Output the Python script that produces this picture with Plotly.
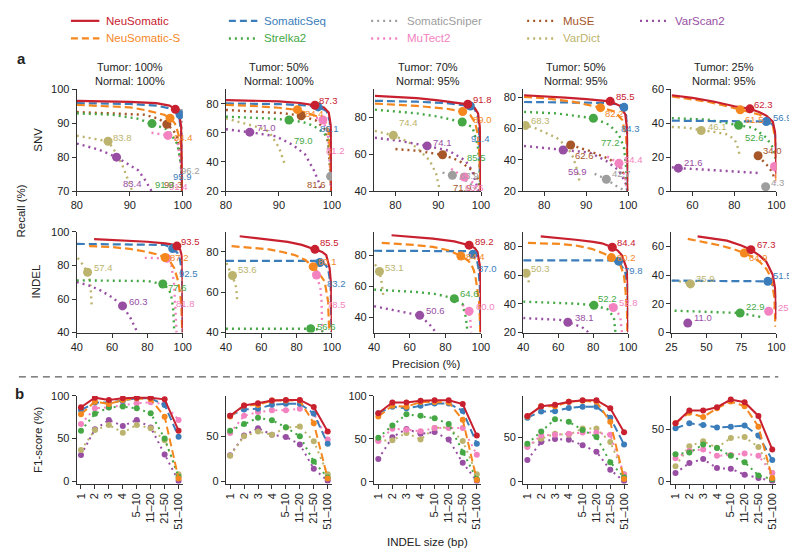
import plotly.graph_objects as go
from plotly.subplots import make_subplots

W, H = 797, 549

# ---------------------------------------------------------------- styles
STYLE = {
    'NeuSomatic':    ('#C8202E', 'solid'),
    'NeuSomatic-S':  ('#F5871F', 'dash'),
    'SomaticSeq':    ('#3A7DBA', 'dash'),
    'SomaticSniper': ('#9E9E9E', 'dot'),
    'MuSE':          ('#A65628', 'dot'),
    'Strelka2':      ('#45A845', 'dot'),
    'MuTect2':       ('#F283C0', 'dot'),
    'VarDict':       ('#BCB46E', 'dot'),
    'VarScan2':      ('#984EA3', 'dot'),
}
DASH = {'solid': 'solid', 'dash': '8px,4px', 'dot': '2px,4px'}
WIDTH = {'solid': 2.2, 'dash': 2.2, 'dot': 2.4}
DRAW_ORDER = ['VarDict', 'VarScan2', 'SomaticSniper', 'MuSE', 'MuTect2',
              'Strelka2', 'SomaticSeq', 'NeuSomatic-S', 'NeuSomatic']

# ---------------------------------------------------------------- data: SNV
# curves: tool -> (precision list, recall list)
SNV_T100_N100 = {
    'NeuSomatic': ([80, 90, 95, 97.5, 98.6, 99.3, 99.7, 99.85, 99.9], [96.6, 96.3, 95.9, 95.2, 94.2, 92.8, 89, 80, 70]),
    'NeuSomatic-S': ([80, 86, 90, 92.8, 95, 96.5, 97.6, 98.5, 99, 99.5, 99.75, 99.9], [95.4, 95.1, 94.7, 93.9, 93.2, 92.5, 91.5, 90, 87.7, 85, 82.8, 70]),
    'SomaticSeq': ([80, 90, 95, 97.5, 98.7, 99.4, 99.7, 99.8, 99.85], [95.9, 95.7, 95.2, 94.4, 93.2, 91, 87, 80, 70]),
    'SomaticSniper': ([99.3, 99.6, 99.8, 99.9, 99.95], [94, 93.5, 92.8, 85, 70]),
    'MuSE': ([80, 86, 92.8, 95.5, 97, 98.2, 99, 99.75, 99.9], [93.3, 93, 92.5, 91.3, 89.7, 88, 85.7, 78, 70]),
    'Strelka2': ([80, 86.7, 91.6, 94.2, 97.2, 99, 99.75, 99.85], [92.9, 92.5, 91.3, 89.9, 88.1, 83.8, 77, 70]),
    'MuTect2': ([94.1, 97.2, 99, 99.6, 99.9], [87.2, 86.4, 84.8, 78, 70]),
    'VarDict': ([80, 82.3, 85.9, 87.3, 88.5, 89.5, 90.4], [86.3, 85.6, 84.7, 81.5, 78, 74, 70.3]),
    'VarScan2': ([80, 84, 87.5, 89.5, 91.6, 93, 94.1], [84, 82.3, 80, 78.2, 76.1, 73, 70]),
}
# points: tool -> (precision, recall, F1 text)
SNV_T100_N100_PTS = {
    'NeuSomatic': (98.6, 94.1, '96.2'), 'NeuSomatic-S': (97.6, 91.5, '94.4'),
    'SomaticSeq': (99.5, 92.5, '95.9'), 'SomaticSniper': (99.7, 92.9, '96.2'),
    'MuSE': (97.0, 89.7, '93.3'), 'Strelka2': (94.2, 89.9, '91.9'),
    'MuTect2': (97.2, 86.4, '91.4'), 'VarDict': (85.9, 84.7, '83.8'),
    'VarScan2': (87.5, 80.0, '83.4'),
}
SNV_T100_N100_LBL = {
    'NeuSomatic': (100.4, 94.3), 'NeuSomatic-S': (97.9, 85.9), 'SomaticSeq': (97.7, 74.3),
    'SomaticSniper': (99.3, 76.1), 'MuSE': (96.1, 71.9), 'Strelka2': (94.3, 71.9),
    'MuTect2': (97.0, 71.4), 'VarDict': (86.4, 85.9), 'VarScan2': (88.4, 72.1),
}

SNV_T50_N100 = {
    'NeuSomatic': ([80, 85, 90, 94, 96.8, 98.5, 99.4, 99.8, 99.9, 99.95], [82.6, 82.3, 81.7, 80.6, 79, 77.5, 74, 65, 40, 20]),
    'NeuSomatic-S': ([80, 85, 90, 93.5, 95.5, 97.5, 98.8, 99.4, 99.7, 99.85], [79.3, 78.6, 77.3, 75.8, 73.5, 71, 67, 60, 45, 20]),
    'SomaticSeq': ([80, 90, 95, 97.4, 99, 99.6, 99.85, 99.9], [80.3, 79.8, 79, 77.9, 75, 68, 50, 20]),
    'SomaticSniper': ([99.3, 99.6, 99.75, 99.85], [50, 40, 30.1, 20]),
    'MuSE': ([80, 88, 91, 94.2, 97, 98.8, 99.4, 99.8], [75.8, 74.5, 73.5, 71.8, 68.5, 62, 50, 25]),
    'Strelka2': ([80, 85, 88, 91.9, 94.5, 96.5, 98.5, 99.3, 99.7, 99.9], [71.2, 70.7, 70, 68.9, 67.5, 65, 60, 55, 45, 20]),
    'MuTect2': ([97, 98.3, 99.2, 99.6, 99.8], [70.5, 68.9, 60, 45, 20]),
    'VarDict': ([80, 83, 86, 88.1, 90, 91.2], [70, 67, 64, 61, 50, 37.5]),
    'VarScan2': ([80, 84.5, 89.4, 92.5, 94.9, 96.5, 97.4, 98], [62.5, 60.5, 57.7, 52, 45.4, 35, 27.4, 20]),
}
SNV_T50_N100_PTS = {
    'NeuSomatic': (96.8, 79.0, '87.3'), 'NeuSomatic-S': (93.5, 76.0, '84.4'),
    'SomaticSeq': (97.4, 77.9, '86.1'), 'SomaticSniper': (99.75, 30.1, '46.5'),
    'MuSE': (94.2, 71.8, '81.6'), 'Strelka2': (91.9, 68.9, '79.0'),
    'MuTect2': (98.3, 68.9, '81.2'), 'VarDict': (78.5, 71.0, '74.5'),
    'VarScan2': (84.5, 60.5, '71.0'),
}
SNV_T50_N100_LBL = {
    'NeuSomatic': (97.2, 82.4), 'NeuSomatic-S': (94.6, 73.4), 'SomaticSeq': (97.4, 63.3),
    'SomaticSniper': (100.2, 33), 'MuSE': (94.9, 24.7), 'Strelka2': (92.5, 54.8),
    'MuTect2': (98.6, 47.6), 'VarDict': (78.7, 74), 'VarScan2': (85.5, 64),
}

SNV_T70_N95 = {
    'NeuSomatic': ([75.2, 80, 85, 90, 94, 96.9, 98.5, 99.3, 99.7, 99.9, 99.95], [91.5, 91, 90.2, 89, 88, 86.9, 85, 82, 75, 60, 40]),
    'NeuSomatic-S': ([75.2, 85, 92, 95.7, 97.5, 98.6, 99.3, 99.6, 99.8, 99.85], [87.3, 86, 84.5, 83, 81, 77, 70, 60, 45, 40]),
    'SomaticSeq': ([75.2, 85, 92, 96, 97.5, 98.5, 99.3, 99.6, 99.7, 99.75], [88.8, 88.3, 87.5, 86.5, 86, 84.5, 80, 70, 55, 45]),
    'SomaticSniper': ([91, 93.3, 95.5, 97, 98.5, 99.2], [50, 48.5, 46.5, 45, 42, 40]),
    'MuSE': ([80, 85, 91, 94.8, 97.9, 99.4, 99.8], [62.7, 61.8, 59.6, 56.5, 51.2, 45.8, 40]),
    'Strelka2': ([75.2, 80, 85, 90, 95.6, 98, 99.2, 99.6, 99.8], [84, 83.2, 82, 80.2, 77.3, 74.5, 65, 55, 40]),
    'MuTect2': ([93, 96.1, 98.5, 99.7], [52, 47.6, 44, 40]),
    'VarDict': ([75.2, 79.5, 83, 85, 88, 89.5, 90.4], [72.5, 70.1, 66.5, 63.5, 56.5, 49.4, 40]),
    'VarScan2': ([75.2, 81, 87.4, 92.5, 96.3, 97.9, 99.4], [68.8, 67.1, 64.4, 61.8, 56.5, 51.2, 40]),
}
SNV_T70_N95_PTS = {
    'NeuSomatic': (96.9, 86.9, '91.8'), 'NeuSomatic-S': (95.7, 83.0, '89.0'),
    'SomaticSeq': (97.5, 86.0, '91.4'), 'SomaticSniper': (93.3, 48.5, '63.9'),
    'MuSE': (91.0, 59.6, '71.9'), 'Strelka2': (95.6, 77.3, '85.5'),
    'MuTect2': (96.1, 47.6, '63.6'), 'VarDict': (79.5, 70.1, '74.4'),
    'VarScan2': (87.4, 64.4, '74.1'),
}
SNV_T70_N95_LBL = {
    'NeuSomatic': (97.7, 89.7), 'NeuSomatic-S': (97.7, 78.6), 'SomaticSeq': (97.1, 68.5),
    'SomaticSniper': (94.5, 48.5), 'MuSE': (92.9, 42), 'Strelka2': (96.2, 58.2),
    'MuTect2': (95.8, 42), 'VarDict': (80.4, 77.3), 'VarScan2': (88.2, 66.2),
}

SNV_T50_N95 = {
    'NeuSomatic': ([75.2, 80, 85, 90, 95.7, 98, 99.3, 99.8, 99.9, 99.95], [81.2, 80.6, 79.7, 78.7, 77.3, 74.5, 69, 58, 45, 20]),
    'NeuSomatic-S': ([75.2, 80, 87, 93.4, 96.8, 98.6, 99.5, 99.9, 100], [80.2, 79.3, 77, 73.3, 70.8, 65.4, 54, 37, 20]),
    'SomaticSeq': ([75.2, 85, 95, 98.2, 99, 99.5, 99.8, 99.9], [76.9, 76.8, 76.3, 75, 73.5, 68.5, 54, 20]),
    'SomaticSniper': ([92, 94.8, 97, 99], [31, 27.5, 23.5, 20.5]),
    'MuSE': ([86.3, 90.8, 95.5, 97.8, 99.3, 99.9], [49.4, 45.6, 40.4, 36.3, 29, 20]),
    'Strelka2': ([75.2, 83, 91.7, 95.5, 97.8, 99, 99.5, 99.9], [70.6, 69.6, 66.5, 62.3, 56, 47.7, 35, 20]),
    'MuTect2': ([95, 97.8, 99.2, 99.6, 99.8], [42, 37.7, 30, 22, 20]),
    'VarDict': ([75, 78, 83, 85.5, 86.9, 88, 88.4], [62.5, 60, 54, 48, 41.5, 32, 25.8]),
    'VarScan2': ([75.2, 84.5, 90.8, 94.7, 97.8, 99.4, 99.8], [48.8, 46.2, 44.6, 39.4, 33.1, 24.8, 20]),
}
SNV_T50_N95_PTS = {
    'NeuSomatic': (95.7, 77.3, '85.5'), 'NeuSomatic-S': (93.4, 73.3, '82.2'),
    'SomaticSeq': (99.0, 73.5, '84.3'), 'SomaticSniper': (94.8, 27.5, '42.7'),
    'MuSE': (86.3, 49.4, '62.6'), 'Strelka2': (91.7, 66.5, '77.2'),
    'MuTect2': (97.8, 37.7, '54.4'), 'VarDict': (75.5, 61.9, '68.3'),
    'VarScan2': (84.5, 46.2, '59.9'),
}
SNV_T50_N95_LBL = {
    'NeuSomatic': (96.6, 80.6), 'NeuSomatic-S': (93.9, 69.6), 'SomaticSeq': (97.8, 60),
    'SomaticSniper': (95.6, 31), 'MuSE': (86.9, 42.5), 'Strelka2': (93.1, 50.8),
    'MuTect2': (98.6, 40.4), 'VarDict': (76.3, 65), 'VarScan2': (85.3, 32.7),
}

SNV_T25_N95 = {
    'NeuSomatic': ([50.2, 60, 70, 80, 87.4, 92, 95.2, 98.3, 99.6, 99.9, 100], [56.5, 55, 52.8, 50, 48.5, 46.5, 44.5, 41, 33.4, 20, 10]),
    'NeuSomatic-S': ([50.2, 60, 67.3, 75, 82.8, 88, 92.1, 96, 98.3, 99.5, 100, 100], [55.8, 53.8, 52.7, 50.5, 47.9, 46.5, 45, 42, 39, 30, 16, 6]),
    'SomaticSeq': ([50.2, 70, 90, 95.2, 98, 99, 99.7, 100], [41.5, 41.2, 41.1, 41, 39.5, 37, 30, 20]),
    'SomaticSniper': ([93, 94.9, 97], [3.5, 2.5, 1.5]),
    'MuSE': ([91.3, 94, 96.5, 98, 99], [20.8, 17.5, 14, 11, 8]),
    'Strelka2': ([50.2, 67.3, 82, 89, 95.2, 98.3, 99.8], [43, 42.1, 38.8, 37.3, 31.5, 25.7, 18]),
    'MuTect2': ([98.5, 99.1, 99.5, 99.8], [16, 14.5, 10, 5]),
    'VarDict': ([50.2, 58, 64.2, 70, 76.6, 80, 81.2, 82.3, 82.8], [37.8, 37.3, 35.8, 35, 33.4, 30.5, 27.6, 22, 20]),
    'VarScan2': ([50.2, 53.3, 65, 75, 85, 92.1], [14, 13.5, 12.7, 12, 11.3, 10.6]),
}
SNV_T25_N95_PTS = {
    'NeuSomatic': (87.4, 48.5, '62.3'), 'NeuSomatic-S': (82.8, 47.9, '61.5'),
    'SomaticSeq': (95.2, 41.0, '56.9'), 'SomaticSniper': (94.9, 2.5, '4.3'),
    'MuSE': (91.3, 20.8, '34.0'), 'Strelka2': (82.0, 38.8, '52.6'),
    'MuTect2': (99.1, 14.5, '25.6'), 'VarDict': (64.2, 35.7, '46.1'),
    'VarScan2': (53.3, 13.5, '21.6'),
}
SNV_T25_N95_LBL = {
    'NeuSomatic': (88.2, 51.2), 'NeuSomatic-S': (84.3, 42.1), 'SomaticSeq': (97.5, 43.4),
    'SomaticSniper': (96.7, 4.8), 'MuSE': (92.9, 23.7), 'Strelka2': (84, 31.5),
    'MuTect2': (100.2, 17), 'VarDict': (66.5, 38.2), 'VarScan2': (54.9, 17),
}

# ---------------------------------------------------------------- data: INDEL
INDEL_T100_N100 = {
    'NeuSomatic': ([49.8, 60, 70, 80, 90, 94.5, 96.7, 98.5, 99.4, 99.8, 99.9, 100], [95.7, 95.3, 94.8, 94.1, 93.1, 92.4, 91.5, 89.5, 86, 80, 60, 40]),
    'NeuSomatic-S': ([47, 60, 70, 80, 86, 90, 93, 95.2, 97, 98, 99.2, 99.7], [91.5, 90.9, 89.8, 88, 86.4, 84.7, 82, 78.3, 72, 66.6, 57, 40]),
    'SomaticSeq': ([40, 60, 80, 90, 94.3, 97, 98.5, 99.3, 99.7, 100], [92.8, 92.6, 92.4, 92.2, 90, 87.5, 83, 78, 68, 40]),
    'Strelka2': ([40, 60, 80, 88.7, 92, 93.3, 94.5, 95, 95.2], [71.1, 70.9, 70.7, 68.9, 66, 62.7, 55, 45, 40]),
    'MuTect2': ([78.5, 86, 91, 93.5, 95, 95.5, 96, 96.5], [84.5, 84.5, 84.2, 80, 70, 60, 50, 40]),
    'VarDict': ([40.5, 43, 46.1, 47.5, 48, 48.5], [84.5, 81, 75.9, 70, 64, 55]),
    'VarScan2': ([40, 47, 52.6, 60, 65.9, 70.2, 74.4], [70.1, 68, 65.6, 61, 55.9, 49.1, 40]),
}
INDEL_T100_N100_PTS = {
    'NeuSomatic': (96.7, 91.5, '93.5'), 'NeuSomatic-S': (90.0, 84.7, '87.2'),
    'SomaticSeq': (94.3, 90.0, '92.5'), 'Strelka2': (88.7, 68.9, '77.6'),
    'MuTect2': (91.0, 84.2, '81.8'), 'VarDict': (46.1, 75.9, '57.4'),
    'VarScan2': (65.9, 55.9, '60.3'),
}
INDEL_T100_N100_LBL = {
    'NeuSomatic': (98, 94.2), 'NeuSomatic-S': (91.5, 84.7), 'SomaticSeq': (97, 75.3),
    'Strelka2': (90.6, 67), 'MuTect2': (94.8, 57.3), 'VarDict': (48.5, 78.6),
    'VarScan2': (68.3, 58.8),
}

INDEL_T50_N100 = {
    'NeuSomatic': ([47.8, 55, 64.4, 75, 83, 90.4, 94.5, 96.8, 98.7, 99.6, 99.9, 100], [87.8, 87, 86.1, 85, 83.5, 81.3, 80, 78.4, 72, 63.8, 50, 40]),
    'NeuSomatic-S': ([43.2, 55, 64.4, 72, 79.3, 85, 89.4, 93, 95.9, 97.8, 98.3, 98.5], [82.9, 82, 81.3, 80, 78.4, 76, 72.7, 69, 65.4, 55.7, 44, 40]),
    'SomaticSeq': ([40, 60, 80, 92, 95.5, 97.8, 99.3, 99.7, 99.8], [75.6, 75.6, 75.6, 75.6, 74.5, 71.9, 63.8, 50, 40]),
    'Strelka2': ([40, 60, 80, 88, 93, 95, 95.5], [41.9, 41.9, 41.8, 41.9, 41.5, 40.5, 40]),
    'MuTect2': ([89, 91.3, 93.5, 94.2, 94.5], [69.5, 68.6, 62, 55, 40]),
    'VarDict': ([40.3, 42, 43.7, 45, 45.9, 46.4], [74.5, 71, 68.3, 65, 62, 55.7]),
    'VarScan2': ([40, 60, 70, 80, 85], [38, 35.5, 33.5, 31, 28]),
}
INDEL_T50_N100_PTS = {
    'NeuSomatic': (90.4, 81.3, '85.5'), 'NeuSomatic-S': (89.4, 72.7, '80.1'),
    'SomaticSeq': (93.2, 74.8, '83.2'), 'Strelka2': (88.0, 41.9, '56.6'),
    'MuTect2': (91.3, 68.6, '78.5'), 'VarDict': (43.7, 68.3, '53.6'),
    'VarScan2': (75.0, 31.0, '46.5'),
}
INDEL_T50_N100_LBL = {
    'NeuSomatic': (92.2, 84.5), 'NeuSomatic-S': (91.1, 75.2), 'SomaticSeq': (95.9, 64.6),
    'Strelka2': (90.7, 43), 'MuTect2': (96, 54.1), 'VarDict': (45.9, 71.1),
    'VarScan2': (65, 39.2),
}

INDEL_T70_N95 = {
    'NeuSomatic': ([49.8, 60, 73, 85, 93.3, 96.5, 98, 99.3, 99.8, 100], [92.8, 92, 90.6, 88.8, 86.4, 84.5, 82, 73.6, 60, 30]),
    'NeuSomatic-S': ([44.3, 60, 73, 82, 88.7, 92, 94.3, 96, 97, 98.3, 98.9, 99.3, 99.5], [87.9, 86.8, 85.3, 83, 79.4, 77, 74.7, 70, 65, 55, 50, 40, 30]),
    'SomaticSeq': ([40, 60, 80, 92, 95.5, 97.5, 98.5, 99.3, 99.6], [82.8, 82.8, 82.7, 82.5, 80.5, 78, 72, 60, 30]),
    'Strelka2': ([40, 63.7, 75, 85, 89.6, 91.5, 92.4], [57.7, 56.2, 54.8, 51.9, 48.5, 39.6, 30]),
    'MuTect2': ([89.6, 93.3, 94, 94.3, 94.5], [48, 43.8, 38, 34, 30]),
    'VarDict': ([40.5, 43, 44, 44.3, 45.2], [74, 69.4, 64, 60.9, 53.4]),
    'VarScan2': ([40, 54.4, 65.6, 71.1, 74.8], [47, 43.8, 41.1, 35.3, 30]),
}
INDEL_T70_N95_PTS = {
    'NeuSomatic': (93.3, 86.4, '89.2'), 'NeuSomatic-S': (88.7, 79.4, '84.4'),
    'SomaticSeq': (95.5, 80.5, '87.0'), 'Strelka2': (85.0, 51.9, '64.6'),
    'MuTect2': (93.3, 43.8, '60.0'), 'VarDict': (43.0, 69.4, '53.1'),
    'VarScan2': (65.6, 41.1, '50.6'),
}
INDEL_T70_N95_LBL = {
    'NeuSomatic': (95.6, 88.9), 'NeuSomatic-S': (90.6, 79.4), 'SomaticSeq': (97, 71.1),
    'Strelka2': (86.9, 54.9), 'MuTect2': (96.1, 47), 'VarDict': (44.8, 71.9),
    'VarScan2': (67.8, 44.3),
}

INDEL_T50_N95 = {
    'NeuSomatic': ([50, 60, 70, 80, 85, 90.9, 94, 96.4, 98, 99.1, 99.8, 100], [86.8, 85.8, 84.5, 83, 82, 79.3, 77, 73.7, 68, 64.6, 53, 20]),
    'NeuSomatic-S': ([42.7, 61, 70, 79.1, 86, 90.4, 93, 95.5, 97.5, 98.2, 99.3, 99.5], [82.3, 81.6, 80.5, 78.2, 75, 72.1, 69.5, 66.8, 60, 53, 35, 20]),
    'SomaticSeq': ([40, 60, 80, 92, 94.5, 96.5, 98.2, 99.5, 100], [70.2, 70.2, 70.2, 70.1, 69.6, 66, 62.3, 53, 20]),
    'Strelka2': ([40, 60, 70, 80.4, 88.2, 91.8, 92.7], [41.5, 40.8, 40.1, 39, 36.2, 30.6, 20]),
    'MuTect2': ([89, 91.5, 94, 95.5, 96.4], [39, 37.4, 34, 30.6, 20]),
    'VarDict': ([40.5, 41.7, 43, 43.5], [64, 61.2, 56, 53]),
    'VarScan2': ([40, 61, 65.5, 73.6, 77.3], [30.1, 28.8, 27.2, 23.8, 20]),
}
INDEL_T50_N95_PTS = {
    'NeuSomatic': (90.9, 79.3, '84.4'), 'NeuSomatic-S': (90.4, 72.1, '80.2'),
    'SomaticSeq': (94.5, 69.6, '79.8'), 'Strelka2': (80.4, 39.0, '52.2'),
    'MuTect2': (91.5, 37.4, '52.8'), 'VarDict': (41.7, 61.2, '50.3'),
    'VarScan2': (65.5, 27.2, '38.1'),
}
INDEL_T50_N95_LBL = {
    'NeuSomatic': (92.7, 82.7), 'NeuSomatic-S': (92.7, 72.5), 'SomaticSeq': (96.4, 63),
    'Strelka2': (81.8, 43.5), 'MuTect2': (93.6, 40.8), 'VarDict': (43.5, 64.6),
    'VarScan2': (68.2, 30.6),
}

INDEL_T25_N95 = {
    'NeuSomatic': ([43.7, 55, 64.7, 75, 81.8, 88, 92.8, 97.4, 99.2, 99.6, 100], [66.9, 65.5, 63.9, 60.5, 57.6, 53.5, 49.2, 40.1, 30, 22, 9.5]),
    'NeuSomatic-S': ([36.7, 50, 60, 70, 77.1, 83, 88.1, 93, 96.3, 98.6, 99.3], [65.1, 62.5, 60.5, 57.8, 55.3, 52.5, 49.2, 44, 37.9, 24, 4]),
    'SomaticSeq': ([25, 50, 75, 92.8, 93.9, 97, 98.6, 99.7, 100], [36.1, 36.1, 36.1, 36.1, 35.6, 33.5, 31, 22, 13]),
    'Strelka2': ([27.3, 45, 60, 74.1, 83.4, 90], [15.2, 14.7, 14.1, 13.6, 11.8, 10.7]),
    'MuTect2': ([98.5, 99.5, 99.8], [18, 14.7, 8]),
    'VarDict': ([26.2, 34.3, 38.6, 40.2, 41], [36.1, 35.1, 33.8, 32.2, 31]),
    'VarScan2': ([36.7], [6.6]),
}
INDEL_T25_N95_PTS = {
    'NeuSomatic': (81.8, 57.6, '67.3'), 'NeuSomatic-S': (77.1, 55.3, '64.9'),
    'SomaticSeq': (93.9, 35.6, '51.5'), 'Strelka2': (74.1, 13.6, '22.9'),
    'MuTect2': (94.5, 14.8, '25.6'), 'VarDict': (38.6, 33.8, '35.9'),
    'VarScan2': (36.7, 6.6, '11.0'),
}
INDEL_T25_N95_LBL = {
    'NeuSomatic': (84.6, 61), 'NeuSomatic-S': (78.7, 51.9), 'SomaticSeq': (96.3, 39.7),
    'Strelka2': (76.9, 17.9), 'MuTect2': (99.8, 17.5), 'VarDict': (40.9, 37.9),
    'VarScan2': (39.5, 10.2),
}

# ---------------------------------------------------------------- data: F1 by INDEL size
SIZE_BINS = ['1', '2', '3', '4', '5–10', '11–20', '21–50', '51–100']

F1_T100_N100 = {
    'NeuSomatic':   [86.7, 98, 95.3, 97.3, 98, 98, 96, 59.2],
    'NeuSomatic-S': [78.4, 93.3, 90.6, 95.3, 97.3, 96, 75.7, 3],
    'SomaticSeq':   [83.5, 92.2, 92.2, 94.5, 97.3, 97.3, 89.4, 52.2],
    'Strelka2':     [59.2, 79.0, 86.5, 87.5, 85.5, 79.6, 50, 5],
    'MuTect2':      [67.1, 85.5, 86.7, 89.4, 91.4, 92.5, 90.6, 71.8],
    'VarDict':      [36.5, 60, 65.9, 56.9, 65.9, 62, 48, 8.2],
    'VarScan2':     [30.6, 60.8, 71.8, 64.7, 71.8, 63.1, 31.4, 0],
}
F1_T50_N100 = {
    'NeuSomatic':   [73, 84.4, 87, 90, 90.6, 90.6, 82.6, 55.4],
    'NeuSomatic-S': [72, 84.4, 85, 90, 89.9, 89.9, 64.6, 3],
    'SomaticSeq':   [73, 80, 80.8, 85.2, 86.3, 86.3, 75.4, 41.6],
    'Strelka2':     [56.2, 63.8, 70.7, 68, 60, 50, 21.8, 4],
    'MuTect2':      [53.6, 72.8, 77, 79, 79, 80.8, 75.4, 46.4],
    'VarDict':      [28.3, 50, 55.4, 51.8, 59.8, 60.9, 44.6, 7.6],
    'VarScan2':     [29, 51, 59, 51.8, 49.3, 41, 13.8, 0.4],
}
F1_T70_N95 = {
    'NeuSomatic':   [79.9, 92.4, 92.4, 94.3, 95, 95, 90.5, 53.9],
    'NeuSomatic-S': [76, 88.6, 87.5, 93, 93, 92.4, 72.3, 2],
    'SomaticSeq':   [79.9, 87.5, 85.6, 88.6, 91.3, 91.3, 82.5, 44.4],
    'Strelka2':     [51.3, 65.6, 78.7, 76.8, 74.1, 67.3, 34.2, 3],
    'MuTect2':      [47.5, 61.8, 60.7, 58.9, 62.7, 62.7, 62.7, 31.6],
    'VarDict':      [48, 48.3, 56.9, 49.4, 62.7, 63.5, 47.5, 8.7],
    'VarScan2':     [26.6, 52, 61.6, 55.9, 58, 49.4, 22.1, 0.8],
}
F1_T50_N95 = {
    'NeuSomatic':   [73.5, 84.4, 86.2, 89.5, 91.3, 91.3, 82.2, 55.4],
    'NeuSomatic-S': [73, 84.4, 84.4, 89.5, 90.6, 89.5, 67, 3],
    'SomaticSeq':   [71.7, 78.6, 79, 82.6, 84, 84, 71.7, 41.6],
    'Strelka2':     [42.4, 56.2, 69.9, 67, 57.9, 50, 21.7, 5],
    'MuTect2':      [38.8, 51.8, 52.5, 53.6, 55, 55, 52.5, 8],
    'VarDict':      [40, 48.2, 53.6, 52.5, 59.6, 59.6, 44.5, 8.3],
    'VarScan2':     [24.3, 44.5, 47.8, 47, 40.9, 33.6, 13.3, 0.7],
}
F1_T25_N95 = {
    'NeuSomatic':   [55.7, 68.1, 68.1, 71.2, 78.5, 76, 62.8, 30.6],
    'NeuSomatic-S': [55.7, 65.9, 61.7, 70.2, 76.6, 72.2, 52.5, 3],
    'SomaticSeq':   [50.9, 55.7, 54.1, 51.6, 52.5, 53.5, 44, 20.4],
    'Strelka2':     [25.9, 27.5, 35.3, 32, 24.4, 18.2, 5.6, 2],
    'MuTect2':      [22.2, 29, 30.6, 24.4, 25.3, 26.6, 24.4, 8],
    'VarDict':      [14.4, 33.7, 38.4, 32.2, 41.6, 42.5, 32.8, 7.8],
    'VarScan2':     [7.8, 17.5, 21.3, 12.6, 12, 6.3, 3.1, 0.3],
}

PANEL_TITLES = ['Tumor: 100%<br>Normal: 100%', 'Tumor: 50%<br>Normal: 100%',
                'Tumor: 70%<br>Normal: 95%', 'Tumor: 50%<br>Normal: 95%',
                'Tumor: 25%<br>Normal: 95%']

# ---------------------------------------------------------------- layout geometry (pixels)
COL_PX = [(64, 172), (216, 324), (367, 476), (519, 626), (670, 777)]
ROW_PX = [(77, 181), (222.7, 325.7), (390.5, 480)]

SNV_AXES = [  # (xrange, xticks, yrange, yticks)
    ([80, 100], [80, 90, 100], [70, 100], [70, 80, 90, 100]),
    ([80, 100], [80, 90, 100], [20, 90], [20, 40, 60, 80]),
    ([75, 100], [80, 90, 100], [40, 95], [40, 60, 80]),
    ([75, 100], [80, 90, 100], [20, 85], [20, 40, 60, 80]),
    ([50, 100], [60, 80, 100], [0, 60], [0, 20, 40, 60]),
]
INDEL_AXES = [
    ([40, 100], [40, 60, 80, 100], [40, 100], [40, 60, 80, 100]),
    ([40, 100], [40, 60, 80, 100], [40, 90], [40, 60, 80]),
    ([40, 100], [40, 60, 80, 100], [30, 95], [40, 60, 80]),
    ([40, 100], [40, 60, 80, 100], [20, 90], [20, 40, 60, 80]),
    ([25, 100], [25, 50, 75, 100], [0, 70], [0, 20, 40, 60]),
]
F1_YAXES = [([-2.8, 100], [0, 50, 100]), ([-2.6, 95], [0, 50]), ([-2, 100], [0, 50, 100]),
            ([-2, 96], [0, 50]), ([-2.2, 82], [0, 50])]

FONT = 'Liberation Sans, Arial, Helvetica, sans-serif'
AX_COLOR = '#333333'


def fx(px):
    return px / W


def fy(py):
    return 1 - py / H


fig = make_subplots(rows=3, cols=5)

axis_common = dict(showline=True, linecolor=AX_COLOR, linewidth=1.3, ticks='outside',
                   ticklen=4, tickwidth=1.2, tickcolor=AX_COLOR, showgrid=False,
                   zeroline=False, tickfont=dict(family=FONT, size=11, color='#222'))

for r in range(3):
    for c in range(5):
        fig.update_xaxes(domain=[fx(COL_PX[c][0]), fx(COL_PX[c][1])], row=r + 1, col=c + 1, **axis_common)
        fig.update_yaxes(domain=[fy(ROW_PX[r][1]), fy(ROW_PX[r][0])], row=r + 1, col=c + 1, **axis_common)


def add_pr_panel(row, col, curves, pts, lbl, axes):
    xr, xt, yr, yt = axes
    fig.update_xaxes(range=xr, tickvals=xt, row=row, col=col)
    fig.update_yaxes(range=yr, tickvals=yt, row=row, col=col)
    tools = [t for t in DRAW_ORDER if t in curves]
    for t in tools:
        color, kind = STYLE[t]
        xs, ys = curves[t]
        fig.add_trace(go.Scatter(x=xs, y=ys, mode='lines', showlegend=False,
                                 line=dict(color=color, width=WIDTH[kind], dash=DASH[kind])),
                      row=row, col=col)
    for t in tools:
        color, _ = STYLE[t]
        px_, py_, _txt = pts[t]
        fig.add_trace(go.Scatter(x=[px_], y=[py_], mode='markers', showlegend=False,
                                 marker=dict(color=color, size=9)),
                      row=row, col=col)
    for t in tools:
        color, _ = STYLE[t]
        lx, ly = lbl[t]
        fig.add_annotation(x=lx, y=ly, text=pts[t][2], showarrow=False,
                           xanchor='left', yanchor='middle',
                           font=dict(family=FONT, size=9.5, color=color),
                           row=row, col=col)


snv = [(SNV_T100_N100, SNV_T100_N100_PTS, SNV_T100_N100_LBL),
       (SNV_T50_N100, SNV_T50_N100_PTS, SNV_T50_N100_LBL),
       (SNV_T70_N95, SNV_T70_N95_PTS, SNV_T70_N95_LBL),
       (SNV_T50_N95, SNV_T50_N95_PTS, SNV_T50_N95_LBL),
       (SNV_T25_N95, SNV_T25_N95_PTS, SNV_T25_N95_LBL)]
indel = [(INDEL_T100_N100, INDEL_T100_N100_PTS, INDEL_T100_N100_LBL),
         (INDEL_T50_N100, INDEL_T50_N100_PTS, INDEL_T50_N100_LBL),
         (INDEL_T70_N95, INDEL_T70_N95_PTS, INDEL_T70_N95_LBL),
         (INDEL_T50_N95, INDEL_T50_N95_PTS, INDEL_T50_N95_LBL),
         (INDEL_T25_N95, INDEL_T25_N95_PTS, INDEL_T25_N95_LBL)]

for c in range(5):
    add_pr_panel(1, c + 1, *snv[c], SNV_AXES[c])
    add_pr_panel(2, c + 1, *indel[c], INDEL_AXES[c])

# ---- row 3: F1 by INDEL size
f1_sets = [F1_T100_N100, F1_T50_N100, F1_T70_N95, F1_T50_N95, F1_T25_N95]
F1_ORDER = ['VarScan2', 'VarDict', 'MuTect2', 'Strelka2', 'SomaticSeq', 'NeuSomatic-S', 'NeuSomatic']
for c, data in enumerate(f1_sets):
    yr, yt = F1_YAXES[c]
    fig.update_xaxes(type='category', categoryorder='array', categoryarray=SIZE_BINS,
                     range=[-0.3, 7.3], tickangle=-90, row=3, col=c + 1)
    fig.update_yaxes(range=yr, tickvals=yt, row=3, col=c + 1)
    for t in F1_ORDER:
        color, kind = STYLE[t]
        fig.add_trace(go.Scatter(x=SIZE_BINS, y=data[t], mode='lines+markers', showlegend=False,
                                 line=dict(color=color, width=2.0, dash=DASH[kind]),
                                 marker=dict(color=color, size=6)),
                      row=3, col=c + 1)

# ---- panel titles
for c in range(5):
    fig.add_annotation(xref='paper', yref='paper', x=fx(sum(COL_PX[c]) / 2), y=fy(61),
                       text=PANEL_TITLES[c], showarrow=False, xanchor='center', yanchor='middle',
                       font=dict(family=FONT, size=11, color='#222'))

# ---- text labels around the grid
def paper_text(px, py, text, size=11.5, angle=0, bold=False, anchor='center'):
    fig.add_annotation(xref='paper', yref='paper', x=fx(px), y=fy(py), text=f'<b>{text}</b>' if bold else text,
                       showarrow=False, textangle=angle, xanchor=anchor, yanchor='middle',
                       font=dict(family=FONT, size=size, color='#222'))


paper_text(25, 129, 'SNV', angle=-90)
paper_text(22, 274, 'INDEL', angle=-90)
paper_text(7, 201, 'Recall (%)', angle=-90)
paper_text(25, 435, 'F1-score (%)', angle=-90)
paper_text(420, 358, 'Precision (%)')
paper_text(421, 540, 'INDEL size (bp)')
paper_text(8, 45, 'a', size=15, bold=True)
paper_text(6, 388, 'b', size=15, bold=True)

# separator
fig.add_shape(type='line', xref='paper', yref='paper', x0=fx(5), x1=fx(779), y0=fy(371), y1=fy(371),
              line=dict(color='#333', width=1, dash='7px,5px'))

# ---- manual legend
LEGEND_ROWS = [(['NeuSomatic', 'SomaticSeq', 'SomaticSniper', 'MuSE', 'VarScan2'], 7),
               (['NeuSomatic-S', 'Strelka2', 'MuTect2', 'VarDict'], 25)]
LEGEND_X = [58, 219, 364, 523, 638]
for names, py in LEGEND_ROWS:
    for i, name in enumerate(names):
        color, kind = STYLE[name]
        x0 = LEGEND_X[i]
        fig.add_shape(type='line', xref='paper', yref='paper', x0=fx(x0), x1=fx(x0 + 29),
                      y0=fy(py), y1=fy(py),
                      line=dict(color=color, width=WIDTH[kind], dash='7px,4px' if kind == 'dash' else DASH[kind]))
        fig.add_annotation(xref='paper', yref='paper', x=fx(x0 + 34), y=fy(py), text=name,
                           showarrow=False, xanchor='left', yanchor='middle',
                           font=dict(family=FONT, size=11.5, color=color))

fig.update_layout(width=W, height=H, autosize=False, margin=dict(l=0, r=0, t=0, b=0),
                  paper_bgcolor='white', plot_bgcolor='white', showlegend=False,
                  font=dict(family=FONT, size=11, color='#222'))

fig.write_html('out.html')
